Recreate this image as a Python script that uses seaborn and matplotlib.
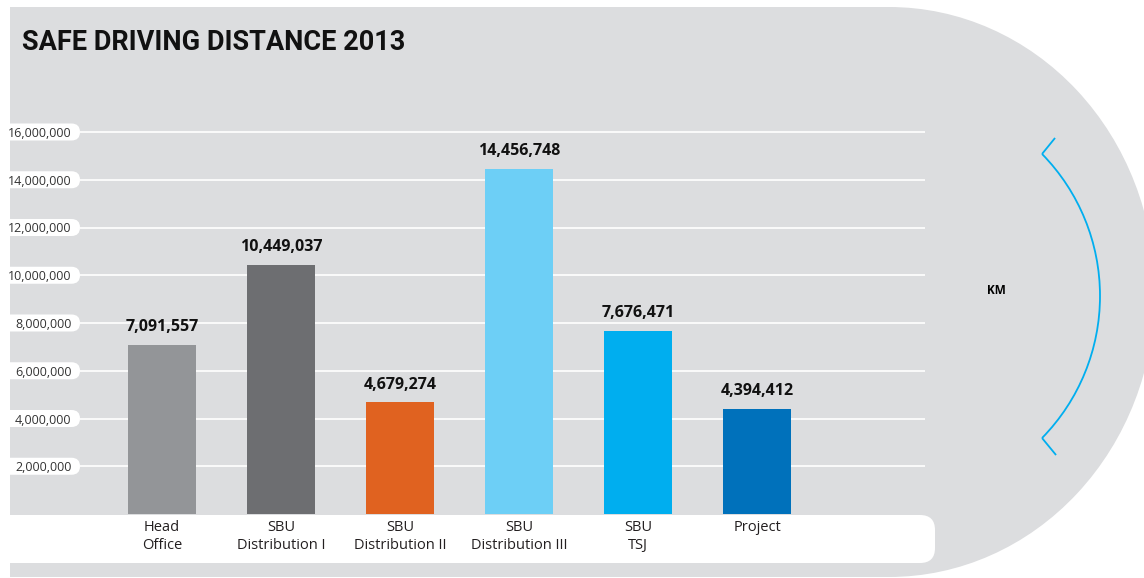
import matplotlib
matplotlib.use("Agg")
import matplotlib.pyplot as plt
from matplotlib.patches import Rectangle, Ellipse, FancyBboxPatch, Arc
import numpy as np
import seaborn as sns

# --- data -------------------------------------------------------------
categories = ["Head\nOffice", "SBU\nDistribution I", "SBU\nDistribution II",
              "SBU\nDistribution III", "SBU\nTSJ", "Project"]
distances = [7091557, 10449037, 4679274, 14456748, 7676471, 4394412]
bar_colors = ["#939598", "#6d6e71", "#e06220", "#6dcff6", "#00aeef", "#0071bb"]
y_ticks = [2000000, 4000000, 6000000, 8000000, 10000000, 12000000, 14000000, 16000000]
title = "SAFE DRIVING DISTANCE 2013"
unit = "KM"

# --- styling ----------------------------------------------------------
sns.set_theme(style="white")
plt.rcParams["font.family"] = ["Open Sans", "DejaVu Sans"]

GRAY = "#dcdddf"
TEXT = "#231f20"
W, H = 1144, 578

fig = plt.figure(figsize=(W / 100, H / 100), dpi=100, facecolor="white")

# background canvas in pixel units (y downwards)
bg = fig.add_axes([0, 0, 1, 1], zorder=0)
bg.set_xlim(0, W)
bg.set_ylim(H, 0)
bg.axis("off")

# grey panel: rectangle plus a wide rounded end on the right
bg.add_patch(Rectangle((10, 7), 879, 570, facecolor=GRAY, edgecolor="none"))
bg.add_patch(Ellipse((889, 292), 2 * 266, 2 * 285, facecolor=GRAY, edgecolor="none"))

# white band that carries the category labels
bg.add_patch(FancyBboxPatch((-40, 515), 975, 48,
                            boxstyle="round,pad=0,rounding_size=15",
                            facecolor="white", edgecolor="none"))

# unit marker: bracket arc with chevron tips
cx, cy, r = 897, 296, 203
bg.add_patch(Arc((cx, cy), 2 * r, 2 * r, theta1=-44.4, theta2=44.4,
                 color="#00aeef", lw=1.3))
top = (cx + r * np.cos(np.radians(44.4)), cy - r * np.sin(np.radians(44.4)))
bot = (top[0], 2 * cy - top[1])
bg.plot([top[0], top[0] + 13], [top[1], top[1] - 16], color="#00aeef", lw=1.3,
        solid_capstyle="butt")
bg.plot([bot[0], bot[0] + 14], [bot[1], bot[1] + 17], color="#00aeef", lw=1.3,
        solid_capstyle="butt")
bg.text(996, 290, unit, ha="center", va="center", fontsize=8.5,
        fontweight="bold", color="black")

# title
bg.text(22, 42, title, ha="left", va="center", fontsize=19.5,
        fontweight="bold", color="#111111",
        family=["Roboto", "DejaVu Sans"])

# --- bar chart ---------------------------------------------------------
px_per_unit = 23.875 / 1e6
y_top = 17e6
ax_left, ax_right, ax_zero = 80, 925, 514
ax_top = ax_zero - y_top * px_per_unit
ax = fig.add_axes([ax_left / W, (H - ax_zero) / H,
                   (ax_right - ax_left) / W, (ax_zero - ax_top) / H], zorder=2)
ax.set_facecolor("none")

sns.barplot(x=categories, y=distances, hue=categories, palette=bar_colors,
            legend=False, width=0.57, saturation=1, linewidth=0,
            edgecolor="none", ax=ax, zorder=3)

ax.set_xlim(-0.69, 6.41)
ax.set_ylim(0, y_top)
ax.set_yticks(y_ticks)
ax.set_yticklabels([f"{v:,}" for v in y_ticks], fontsize=9, color="#333333")
ax.yaxis.grid(True, color="white", lw=1.2, zorder=1)
ax.set_axisbelow(True)
ax.tick_params(axis="y", length=0, pad=6)
ax.tick_params(axis="x", length=0, pad=4, labelsize=10.5, labelcolor=TEXT)
for lbl in ax.get_xticklabels():
    lbl.set_linespacing(1.3)
for s in ax.spines.values():
    s.set_visible(False)
ax.set_xlabel("")
ax.set_ylabel("")

for cont in ax.containers:
    ax.bar_label(cont, labels=[f"{int(v):,}" for v in cont.datavalues],
                 padding=7, fontsize=11.5, fontweight="bold", color="#111111")

# white pills behind the value-axis labels
fig.canvas.draw()
for v in y_ticks:
    yd = ax.transData.transform((0, v))[1]
    ypx = H - yd
    bg.add_patch(FancyBboxPatch((-40, ypx - 8.5), 120, 17,
                                boxstyle="round,pad=0,rounding_size=8.5",
                                facecolor="white", edgecolor="none", zorder=1))

fig.savefig("out.png", dpi=100, facecolor="white")
